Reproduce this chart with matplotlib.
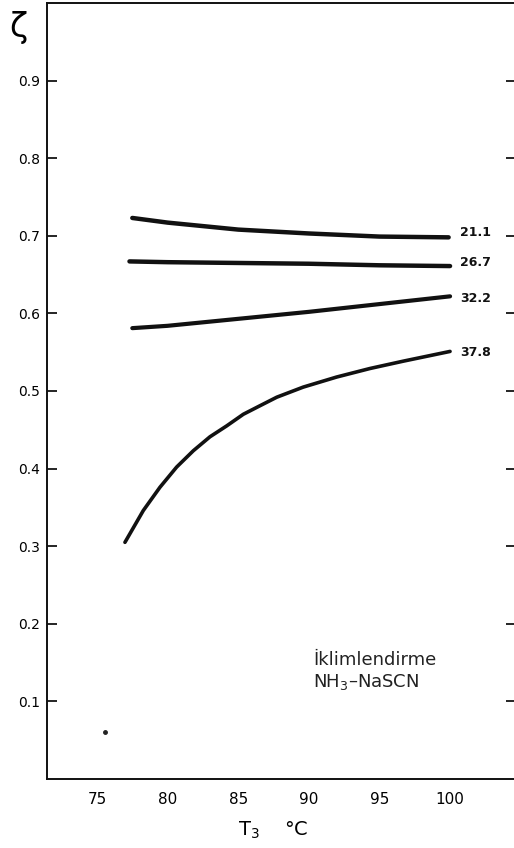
import matplotlib
matplotlib.use("Agg")
import matplotlib.pyplot as plt

# ---- data ----
t_21 = [77.5, 80.0, 85.0, 90.0, 95.0, 99.9]
z_21 = [0.723, 0.717, 0.708, 0.703, 0.699, 0.698]

t_26 = [77.3, 80.0, 85.0, 90.0, 95.0, 100.0]
z_26 = [0.667, 0.666, 0.665, 0.664, 0.662, 0.661]

t_32 = [77.5, 80.0, 85.0, 90.0, 95.0, 100.0]
z_32 = [0.581, 0.584, 0.593, 0.602, 0.612, 0.622]

t_37 = [76.98, 78.28, 79.46, 80.64, 81.82, 83.0, 84.18, 85.36, 86.54, 87.73,
        89.6, 91.97, 94.33, 96.7, 100.0]
z_37 = [0.305, 0.346, 0.376, 0.402, 0.423, 0.441, 0.455, 0.470, 0.481, 0.492,
        0.505, 0.518, 0.529, 0.5385, 0.551]

curve_labels = ["21.1", "26.7", "32.2", "37.8"]
stray_t = [75.6]
stray_z = [0.061]

x_ticks = [75, 80, 85, 90, 95, 100]
y_ticks = [0.1, 0.2, 0.3, 0.4, 0.5, 0.6, 0.7, 0.8, 0.9]
y_ticklabels = ["0.1", "0.2", "0.3", "0.4", "0.5", "0.6", "0.7", "0.8", "0.9"]

fig = plt.figure(figsize=(5.14, 8.48), dpi=100)
ax = fig.add_axes([47 / 514, 69 / 848, 469 / 514, 776 / 848])

series = [(t_21, z_21, 3.2), (t_26, z_26, 3.2), (t_32, z_32, 3.0), (t_37, z_37, 2.6)]
label_dy = [0.006, 0.005, -0.003, -0.002]
for (t, z, lw), lab, dy in zip(series, curve_labels, label_dy):
    ax.plot(t, z, color="#111111", lw=lw, solid_capstyle="round", solid_joinstyle="round")
    ax.text(100.7, z[-1] + dy, lab, fontsize=9, fontweight="bold", va="center", ha="left",
            color="#111111")

ax.plot(stray_t, stray_z, "o", color="#222222", ms=2.5)

ax.set_xlim(71.46, 104.67)
ax.set_ylim(0, 1.0)
ax.set_xticks(x_ticks)
ax.set_xticklabels([str(v) for v in x_ticks], fontsize=11)
ax.set_yticks(y_ticks)
ax.set_yticklabels(y_ticklabels, fontsize=10)
ax.tick_params(axis="x", length=0, pad=9)
ax.tick_params(axis="y", direction="in", length=7, width=1.2, pad=5, right=True)
for s in ["left", "bottom", "top"]:
    ax.spines[s].set_linewidth(1.4)
    ax.spines[s].set_color("#111111")
ax.spines["right"].set_visible(False)

ax.text(90.3, 0.138, "İklimlendirme\nNH$_3$–NaSCN", fontsize=13, ha="left", va="center",
        linespacing=1.2, color="#222222")

fig.text(18 / 514, 1 - 27 / 848, "ζ", fontsize=24, ha="center", va="center")
fig.text(273 / 514, 1 - 830 / 848, "T$_3$    °C", fontsize=14, ha="center", va="center")

fig.savefig("out.png", dpi=100)
